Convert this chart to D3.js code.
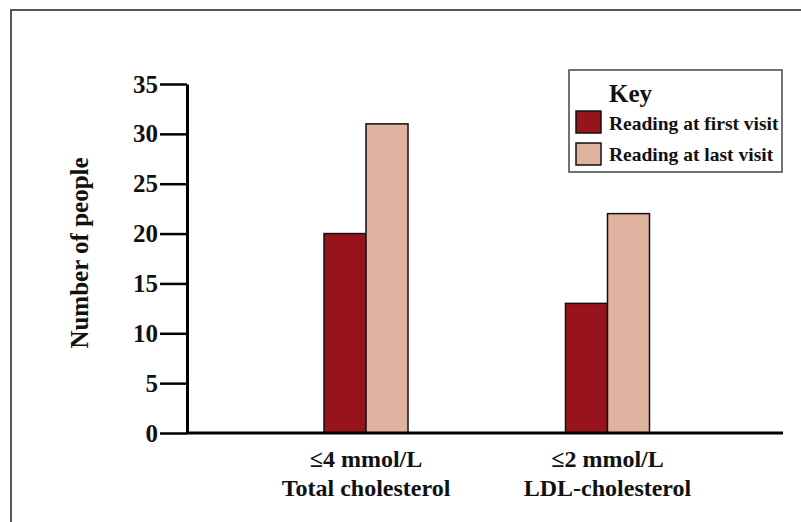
<!DOCTYPE html>
<html>
<head>
<meta charset="utf-8">
<script src="https://cdn.jsdelivr.net/npm/d3@7"></script>
<style>
  body { margin: 0; background: #fff; }
  svg text { font-family: "Liberation Serif", "DejaVu Serif", serif; font-weight: bold; fill: #111; }
</style>
</head>
<body>
<svg id="drawing_region"></svg>
<script>
// values
const categories = ["≤4 mmol/L|Total cholesterol", "≤2 mmol/L|LDL-cholesterol"];
const series = ["Reading at first visit", "Reading at last visit"];
const firstVisit = [20, 13];
const lastVisit = [31, 22];
const yTicks = [0, 5, 10, 15, 20, 25, 30, 35];
const colors = ["#98141c", "#dfb3a0"];

const width = 801, height = 522;
const plot = { left: 187, right: 783, top: 84, bottom: 433 };

const svg = d3.select("#drawing_region")
    .attr("width", width)
    .attr("height", height);

// outer frame
svg.append("path")
    .attr("d", `M11,${height} L11,10 L${width},10`)
    .attr("fill", "none")
    .attr("stroke", "#555")
    .attr("stroke-width", 2);

const y = d3.scaleLinear().domain([0, 35]).range([plot.bottom, plot.top]);
const x0 = d3.scalePoint().domain(categories).range([189, 784.5]).padding(0.733);
const x1 = d3.scaleBand().domain(series).range([-42, 42]).padding(0);

const rows = categories.map((c, i) => ({ cat: c, values: [firstVisit[i], lastVisit[i]] }));

// bars
const groups = svg.selectAll(".grp")
    .data(rows)
    .enter()
    .append("g")
    .attr("transform", d => `translate(${x0(d.cat)},0)`);

groups.selectAll("rect")
    .data(d => d.values.map((v, j) => ({ key: series[j], value: v, j: j })))
    .enter()
    .append("rect")
    .attr("x", d => x1(d.key))
    .attr("y", d => y(d.value))
    .attr("width", x1.bandwidth())
    .attr("height", d => plot.bottom - y(d.value))
    .attr("fill", d => colors[d.j])
    .attr("stroke", "#111")
    .attr("stroke-width", 1.5);

// y axis
const yAxis = svg.append("g")
    .attr("transform", `translate(${plot.left},0)`)
    .call(d3.axisLeft(y).tickValues(yTicks).tickSize(27).tickSizeOuter(0).tickPadding(2));
yAxis.select(".domain").attr("stroke", "#000").attr("stroke-width", 3);
yAxis.selectAll(".tick line").attr("stroke", "#000").attr("stroke-width", 2.5);
yAxis.selectAll(".tick text")
    .attr("font-size", 25)
    .attr("font-family", "Liberation Serif")
    .attr("fill", "#111");

// x axis baseline
svg.append("line")
    .attr("x1", plot.left).attr("x2", plot.right)
    .attr("y1", plot.bottom).attr("y2", plot.bottom)
    .attr("stroke", "#000")
    .attr("stroke-width", 3);

// category labels
rows.forEach(d => {
    const parts = d.cat.split("|");
    const t = svg.append("text")
        .attr("text-anchor", "middle")
        .attr("font-size", 24);
    t.append("tspan").attr("x", x0(d.cat)).attr("y", 467).text(parts[0]);
    t.append("tspan").attr("x", x0(d.cat)).attr("y", 496).text(parts[1]);
});

// y title
svg.append("text")
    .attr("transform", "translate(88,253) rotate(-90)")
    .attr("text-anchor", "middle")
    .attr("font-size", 25)
    .text("Number of people");

// legend
const legend = svg.append("g");
legend.append("rect")
    .attr("x", 569).attr("y", 70)
    .attr("width", 213).attr("height", 102)
    .attr("fill", "#fff")
    .attr("stroke", "#444")
    .attr("stroke-width", 1.5);
legend.append("text")
    .attr("x", 609).attr("y", 102)
    .attr("font-size", 25)
    .text("Key");
series.forEach((s, i) => {
    legend.append("rect")
        .attr("x", 576).attr("y", 111 + i * 32)
        .attr("width", 25).attr("height", 22)
        .attr("fill", colors[i])
        .attr("stroke", "#111")
        .attr("stroke-width", 1.5);
    legend.append("text")
        .attr("x", 609).attr("y", 130 + i * 31)
        .attr("font-size", 19.5)
        .text(s);
});
</script>
</body>
</html>
